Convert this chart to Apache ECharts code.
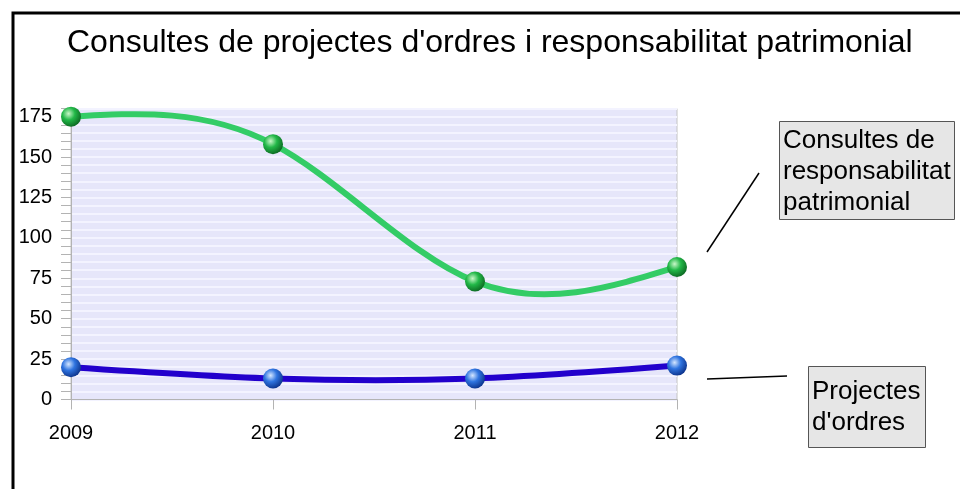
<!DOCTYPE html>
<html>
<head>
<meta charset="utf-8">
<title>Consultes</title>
<script src="https://cdn.jsdelivr.net/npm/echarts@6/dist/echarts.min.js"></script>
<style>
  html, body { margin: 0; padding: 0; background: #fff; }
  #chart { width: 960px; height: 489px; }
</style>
</head>
<body>
<div id="chart"></div>
<script>
// dades
var years = ["2009", "2010", "2011", "2012"]
var respPatrimonial = [175, 158, 73, 82]   // Consultes de responsabilitat patrimonial
var projOrdres = [20, 13, 13, 21]          // Projectes d'ordres
var yTickLabels = [0, 25, 50, 75, 100, 125, 150, 175]

var FONT = "Liberation Sans, Arial, sans-serif"

function ball(light, mid, dark) {
  return new echarts.graphic.RadialGradient(0.38, 0.35, 0.7, [
    { offset: 0, color: light },
    { offset: 0.45, color: mid },
    { offset: 1, color: dark }
  ])
}

// spline cubica natural (com el full de calcul) a partir dels punts en pixels
function splinePath(pts) {
  var n = pts.length
  var h = pts[1][0] - pts[0][0]
  var M = new Array(n).fill(0)
  if (n > 2) {
    // sistema tridiagonal 1-4-1
    var a = [], r = []
    for (var i = 1; i < n - 1; i++) {
      r.push(6 * (pts[i + 1][1] - 2 * pts[i][1] + pts[i - 1][1]) / (h * h))
    }
    var m = r.length, c = [], d = []
    for (var k = 0; k < m; k++) {
      var den = 4 - (k > 0 ? c[k - 1] : 0)
      c[k] = 1 / den
      d[k] = (r[k] - (k > 0 ? d[k - 1] : 0)) / den
    }
    for (var k2 = m - 1; k2 >= 0; k2--) {
      M[k2 + 1] = d[k2] - (k2 < m - 1 ? c[k2] * M[k2 + 2] : 0)
    }
  }
  var dy = []
  for (var j = 0; j < n; j++) {
    if (j < n - 1) dy[j] = (pts[j + 1][1] - pts[j][1]) / h - h * (2 * M[j] + M[j + 1]) / 6
    else dy[j] = (pts[j][1] - pts[j - 1][1]) / h + h * (M[j - 1] + 2 * M[j]) / 6
  }
  var p = "M" + pts[0][0] + " " + pts[0][1]
  for (var s = 0; s < n - 1; s++) {
    var t = h / 3
    p += " C" + (pts[s][0] + t) + " " + (pts[s][1] + t * dy[s]) + " " +
      (pts[s + 1][0] - t) + " " + (pts[s + 1][1] - t * dy[s + 1]) + " " +
      pts[s + 1][0] + " " + pts[s + 1][1]
  }
  return p
}

function curveSeries(values, color) {
  return {
    type: "custom",
    data: [0],
    z: 2,
    silent: true,
    renderItem: function (params, api) {
      var pts = values.map(function (v, i) { return api.coord([i, v]) })
      return {
        type: "path",
        shape: { pathData: splinePath(pts) },
        style: { fill: null, stroke: color, lineWidth: 6, lineCap: "round" }
      }
    }
  }
}

var chart = echarts.init(document.getElementById("chart"), null, { renderer: "canvas" })

var option = {
  backgroundColor: "#fff",
  animation: false,
  title: {
    text: "Consultes de projectes d'ordres i responsabilitat patrimonial",
    left: 62,
    top: 22,
    textStyle: { fontFamily: FONT, fontSize: 32, fontWeight: "normal", color: "#000" }
  },
  grid: {
    left: 71,
    right: 283,
    top: 108.6,
    bottom: 89.5,
    show: true,
    backgroundColor: "#e6e6fa",
    borderColor: "#c4c4c4",
    borderWidth: 1
  },
  xAxis: {
    type: "category",
    data: years,
    boundaryGap: false,
    axisLine: { lineStyle: { color: "#b3b3b3", width: 1 } },
    axisTick: { show: true, length: 10, lineStyle: { color: "#b3b3b3" } },
    axisLabel: { fontFamily: FONT, fontSize: 20, color: "#000", margin: 24 },
    splitLine: { show: false }
  },
  yAxis: {
    type: "value",
    min: 0,
    max: 180,
    interval: 5,
    axisLine: { show: true, lineStyle: { color: "#b3b3b3", width: 1 } },
    axisTick: { show: true, length: 10, lineStyle: { color: "#b3b3b3" } },
    axisLabel: {
      fontFamily: FONT, fontSize: 20, color: "#000", margin: 19,
      formatter: function (v) { return yTickLabels.indexOf(v) >= 0 ? String(v) : "" }
    },
    splitLine: { show: true, lineStyle: { color: "#f3f3ff", width: 2 } }
  },
  series: [
    curveSeries(respPatrimonial, "#33cc66"),
    curveSeries(projOrdres, "#2200cc"),
    {
      name: "Consultes de responsabilitat patrimonial",
      type: "line",
      data: respPatrimonial,
      symbol: "circle",
      symbolSize: 20,
      lineStyle: { width: 0, opacity: 0 },
      itemStyle: { color: ball("#c8f7c8", "#22b848", "#0b6420") },
      z: 3
    },
    {
      name: "Projectes d'ordres",
      type: "line",
      data: projOrdres,
      symbol: "circle",
      symbolSize: 20,
      lineStyle: { width: 0, opacity: 0 },
      itemStyle: { color: ball("#d4e6ff", "#2f74e0", "#0a2f86") },
      z: 3
    }
  ],
  graphic: [
    // marc negre
    {
      type: "rect", silent: true,
      shape: { x: 13, y: 13, width: 1000, height: 1000 },
      style: { fill: null, stroke: "#000", lineWidth: 3 }
    },
    // etiqueta 1
    {
      type: "line",
      shape: { x1: 707, y1: 252, x2: 759, y2: 173 },
      style: { stroke: "#000", lineWidth: 1.5 }
    },
    {
      type: "rect",
      shape: { x: 779.5, y: 121.5, width: 175, height: 98 },
      style: { fill: "#e6e6e6", stroke: "#555", lineWidth: 1 }
    },
    {
      type: "text", left: 783, top: 125,
      style: {
        text: "Consultes de\nresponsabilitat\npatrimonial",
        font: "26px " + FONT, fill: "#000", lineHeight: 31
      }
    },
    // etiqueta 2
    {
      type: "line",
      shape: { x1: 707, y1: 379, x2: 787, y2: 376 },
      style: { stroke: "#000", lineWidth: 1.5 }
    },
    {
      type: "rect",
      shape: { x: 808.5, y: 366.5, width: 117, height: 81 },
      style: { fill: "#e6e6e6", stroke: "#555", lineWidth: 1 }
    },
    {
      type: "text", left: 812, top: 376,
      style: {
        text: "Projectes\nd'ordres",
        font: "26px " + FONT, fill: "#000", lineHeight: 31
      }
    }
  ]
}

chart.setOption(option)
</script>
</body>
</html>
